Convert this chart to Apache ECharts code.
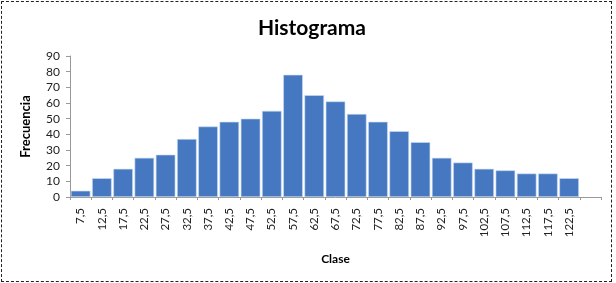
<!DOCTYPE html>
<html>
<head>
<meta charset="utf-8">
<script src="https://cdn.jsdelivr.net/npm/echarts@6/dist/echarts.min.js"></script>
<style>
  html, body { margin: 0; padding: 0; background: #fff; }
  #wrap { position: absolute; left: 1px; top: 1px; width: 611px; height: 281px; border: 1px dashed #222; box-sizing: border-box; }
  #chart { position: absolute; left: 0; top: 0; width: 616px; height: 283px; }
</style>
</head>
<body>
<div id="wrap"></div>
<div id="chart"></div>
<script>
const categories = ['7,5','12,5','17,5','22,5','27,5','32,5','37,5','42,5','47,5','52,5','57,5','62,5','67,5','72,5','77,5','82,5','87,5','92,5','97,5','102,5','107,5','112,5','117,5','122,5',''];
const frecuencia = [4,12,18,25,27,37,45,48,50,55,78,65,61,53,48,42,35,25,22,18,17,15,15,12,null];
const yTicks = [0,10,20,30,40,50,60,70,80,90];

const chart = echarts.init(document.getElementById('chart'), null, { renderer: 'canvas' });
const font = 'Lato, "Open Sans", sans-serif';
chart.setOption({
  animation: false,
  title: {
    text: 'Histograma', left: 307, textAlign: 'center', top: 13,
    textStyle: { fontFamily: font, fontWeight: 'bold', fontSize: 21, color: '#000' }
  },
  grid: { left: 70, right: 15, top: 56, bottom: 86, containLabel: false },
  xAxis: {
    type: 'category', data: categories,
    name: 'Clase', nameLocation: 'middle', nameGap: 56,
    nameTextStyle: { fontFamily: font, fontWeight: 'bold', fontSize: 12, color: '#000' },
    axisLine: { lineStyle: { color: '#999' } },
    axisTick: { show: true, alignWithLabel: false, length: 3, lineStyle: { color: '#999' } },
    axisLabel: { rotate: 90, interval: 0, fontFamily: font, fontSize: 11.5, color: '#222', margin: 11 }
  },
  yAxis: {
    type: 'value', min: 0, max: 90, interval: 10,
    name: 'Frecuencia', nameLocation: 'middle', nameGap: 38, nameRotate: 90,
    nameTextStyle: { fontFamily: font, fontWeight: 'bold', fontSize: 13, color: '#000' },
    axisLine: { show: true, lineStyle: { color: '#999' } },
    axisTick: { show: true, length: 4, lineStyle: { color: '#999' } },
    splitLine: { show: false },
    axisLabel: { fontFamily: font, fontSize: 12, color: '#222', margin: 10,
      formatter: v => yTicks.includes(v) ? String(v) : '' }
  },
  series: [{
    type: 'bar', data: frecuencia, barCategoryGap: '8%',
    itemStyle: { color: '#4678c2', borderColor: '#c9dbf0', borderWidth: 0.6 }
  }]
});
</script>
</body>
</html>
